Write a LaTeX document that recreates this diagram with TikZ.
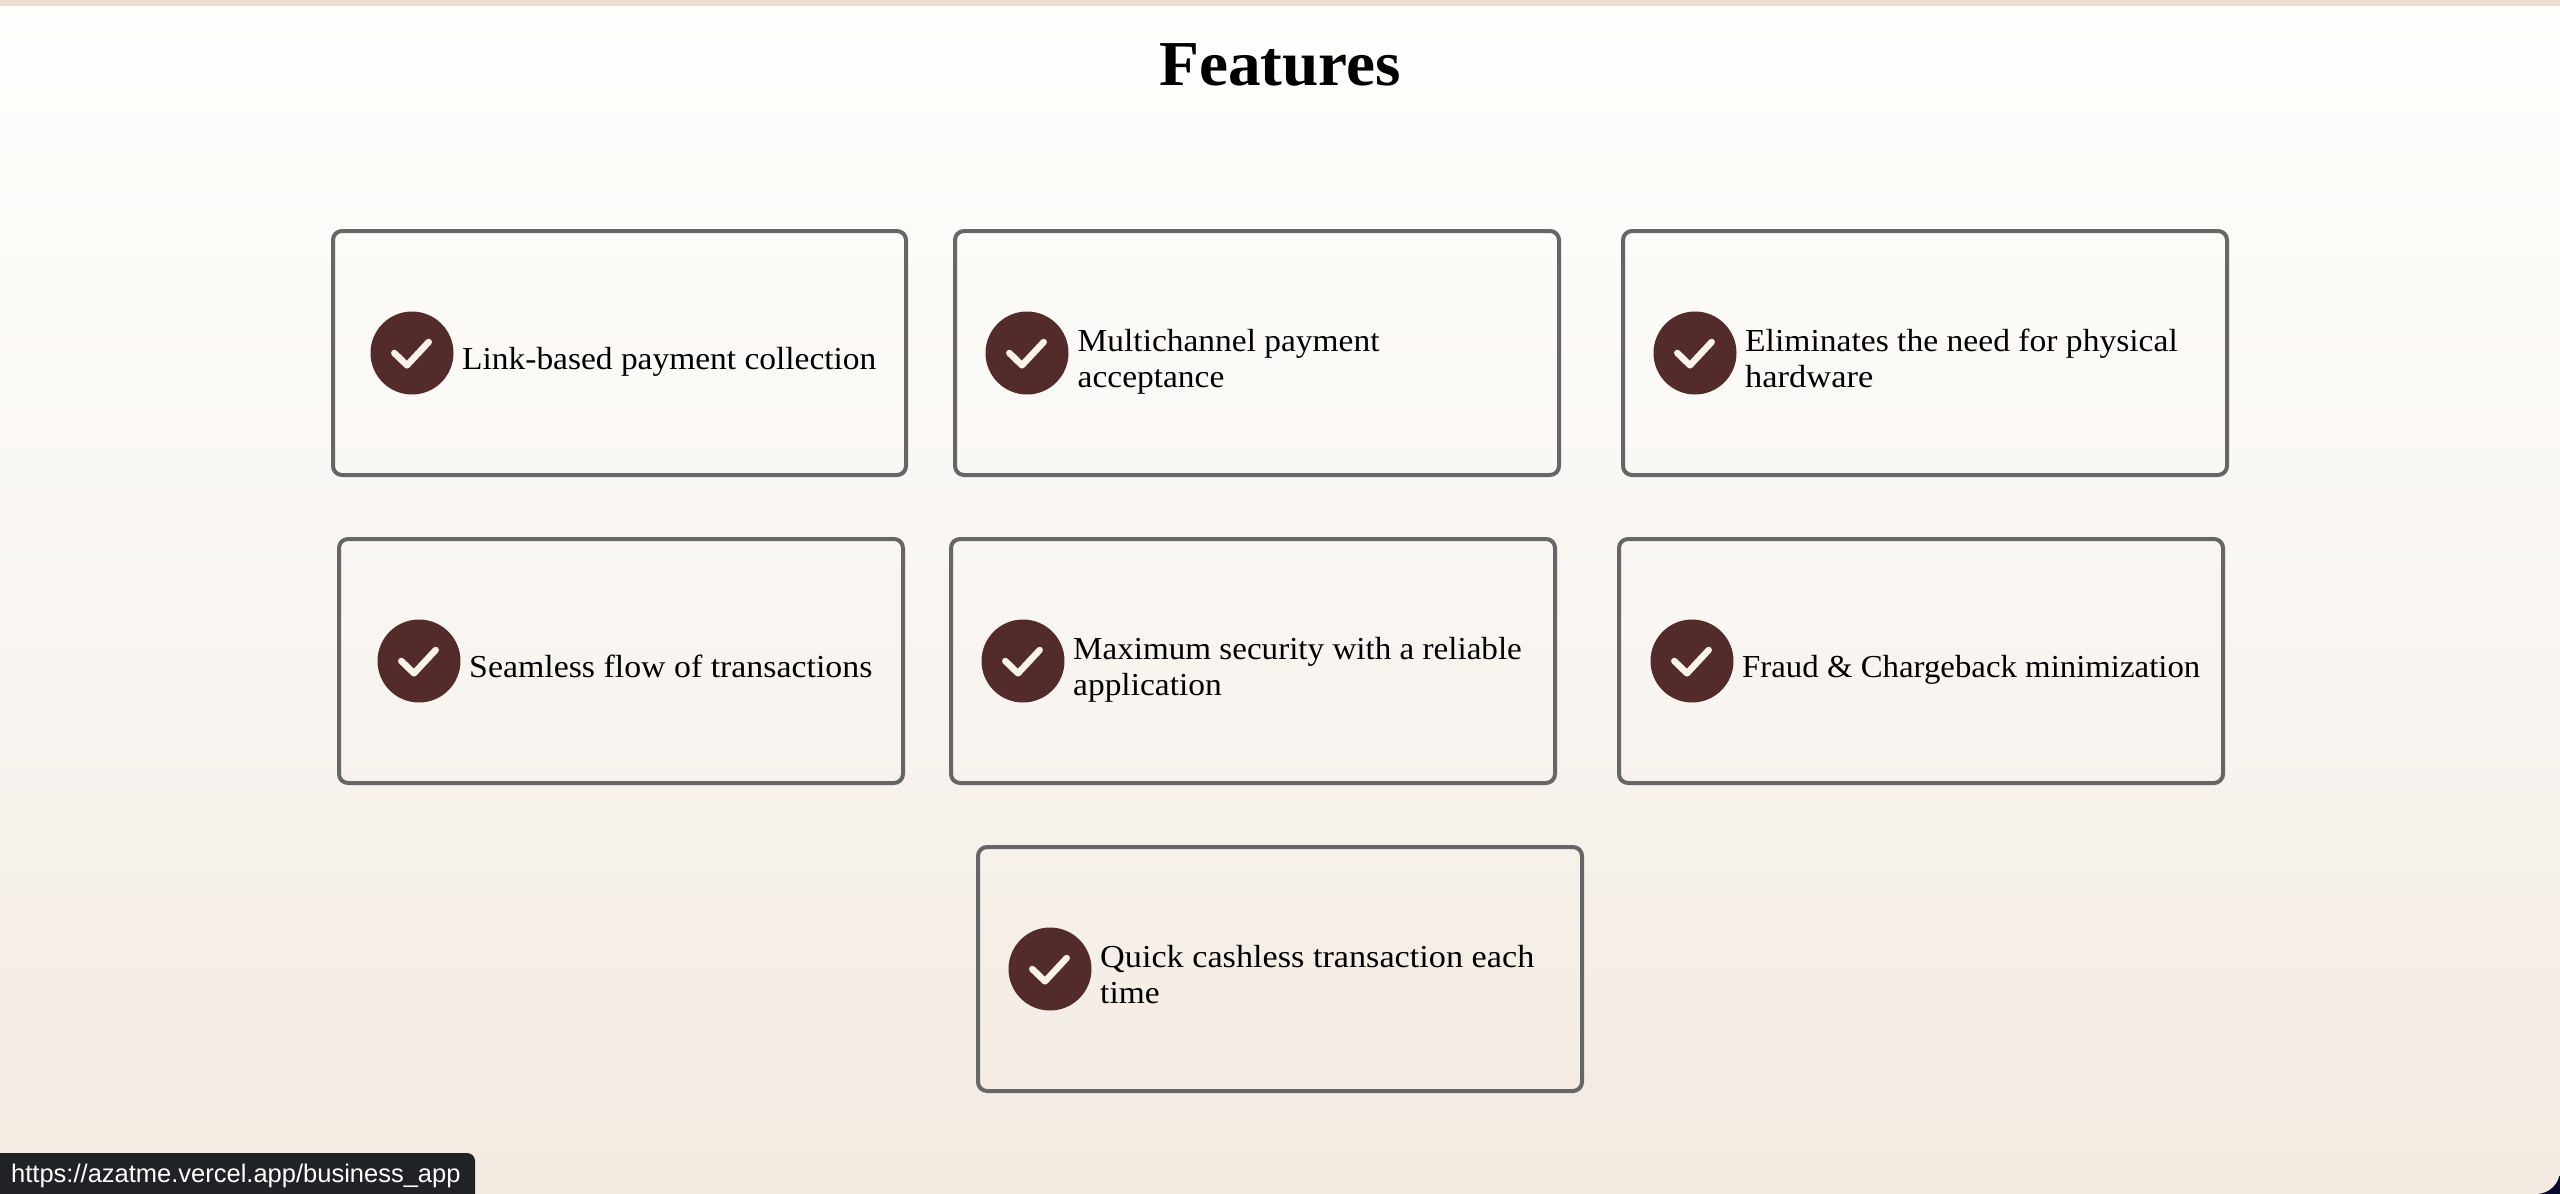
\documentclass[tikz,border=0pt]{standalone}
\usepackage{graphicx}
\usepackage{fontspec}
\setmainfont[FakeStretch=1.045]{Liberation Serif}
\newfontfamily\titlefont[FakeStretch=1.02]{Liberation Serif}
\newfontfamily\barfont{Liberation Sans}
\definecolor{bgtop}{HTML}{FFFEFC}
\definecolor{bgmid}{HTML}{F9F6F2}
\definecolor{bgbot}{HTML}{F3EAE1}
\definecolor{stripcol}{HTML}{ECDFD2}
\definecolor{cornercol}{HTML}{0A0A30}
\definecolor{cardline}{HTML}{666666}
\definecolor{checkfill}{HTML}{532B2B}
\definecolor{tickcol}{HTML}{FBF3EA}
\definecolor{barfill}{HTML}{202226}
\newcommand{\cs}{\rule[-8pt]{0pt}{32pt}}
\newcommand{\sx}[2]{\scalebox{#1}[1]{#2}}
\tikzset{
  x=1pt,y=-1pt,
  cardbox/.style={draw=cardline,line width=4pt,rounded corners=9pt,inner sep=0pt},
  badge/.style={circle,fill=checkfill,minimum size=83pt,inner sep=0pt},
  tick/.style={draw=tickcol,line width=6.5pt,line cap=round,line join=round},
  cardtext/.style={anchor=west,inner sep=0pt,align=left,text=black,font=\fontsize{32}{36}\selectfont},
}
\newcommand{\card}[7]{%
  % name, x0, x1, y0, badge cx, text x, text
  \draw[cardbox] (#2,#4+1) rectangle (#3,#4+245);
  \node[badge] (#1b) at (#5,#4+123) {};
  \draw[tick] ($(#1b.center)+(-17.7,0)$) -- ($(#1b.center)+(-5,12.3)$) -- ($(#1b.center)+(16.7,-11)$);
  \node[cardtext] (#1t) at (#6,#4+131) {#7};
}
\usetikzlibrary{calc}
\begin{document}
\begin{tikzpicture}
\useasboundingbox (0,0) rectangle (2560,1194);
\fill[cornercol] (2500,1134) rectangle (2560,1194);
\shade[top color=bgtop,bottom color=bgbot,middle color=bgmid]
  (0,0) -- (2560,0) [rounded corners=24pt] -- (2560,1194) [sharp corners] -- (0,1194) -- cycle;
\fill[stripcol] (0,0) rectangle (2560,5.5);
\node[anchor=base,inner sep=0pt,font=\titlefont\fontsize{64}{64}\selectfont\bfseries] (title) at (1280,85) {Features};
\card{a}{333}{906}{230}{412}{462}{\cs Link-based payment collection}
\card{b}{955}{1559}{230}{1027}{1077.5}{\cs Multichannel payment\\\cs acceptance}
\card{c}{1623}{2227}{230}{1695}{1745}{\cs \sx{1.004}{Eliminates the need for physical}\\\cs \sx{1.03}{hardware}}
\card{d}{339}{903}{538}{419}{469}{\cs \sx{1.012}{Seamless flow of transactions}}
\card{e}{951}{1555}{538}{1023}{1073}{\cs \sx{0.99}{Maximum security with a reliable}\\\cs application}
\card{f}{1619}{2223}{538}{1692}{1742}{\cs \sx{0.982}{Fraud \& Chargeback minimization}}
\card{g}{978}{1582}{846}{1050}{1100}{\cs \sx{1.023}{Quick cashless transaction each}\\\cs time}
\fill[barfill] (0,1153) -- (467,1153) to[out=0,in=90] (475,1161) -- (475,1194) -- (0,1194) -- cycle;
\node[anchor=base west,inner sep=0pt,text=white,font=\barfont\fontsize{25.5}{28}\selectfont] (status) at (11,1182) {https://azatme.vercel.app/business\_app};
\end{tikzpicture}
\end{document}
